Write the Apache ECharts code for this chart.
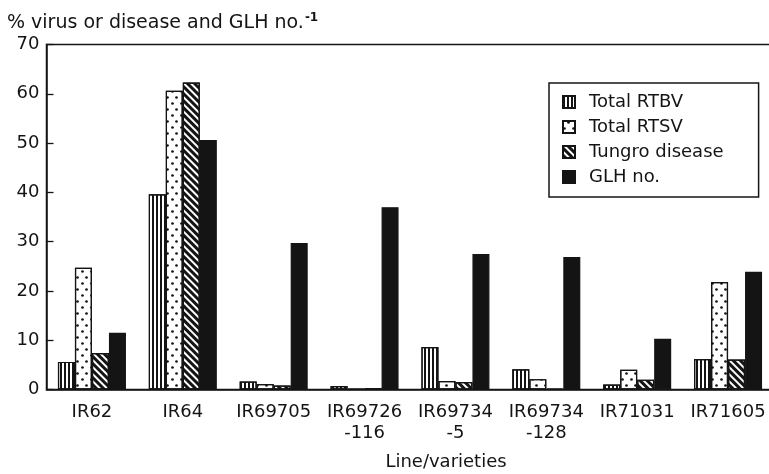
<!DOCTYPE html>
<html>
<head>
<meta charset="utf-8">
<style>
  html, body { margin: 0; padding: 0; background: #fff; }
  #chart { width: 769px; height: 474px; }
</style>
<script src="https://cdn.jsdelivr.net/npm/echarts@6/dist/echarts.min.js"></script>
</head>
<body>
<div id="chart"></div>
<script>
// Rice lines / varieties and measured percentages
const categories = ['IR62', 'IR64', 'IR69705', 'IR69726\n-116', 'IR69734\n-5', 'IR69734\n-128', 'IR71031', 'IR71605'];
const totalRTBV = [5.6, 39.6, 1.6, 0.7, 8.6, 4.1, 1.0, 6.2];
const totalRTSV = [24.7, 60.6, 1.1, 0.2, 1.7, 2.1, 4.0, 21.8];
const tungroDisease = [7.4, 62.3, 0.8, 0.3, 1.5, 0.2, 2.0, 6.1];
const glhNo = [11.5, 50.6, 29.7, 37.0, 27.5, 26.9, 10.3, 23.9];
const yTicks = [0, 10, 20, 30, 40, 50, 60, 70];

const FONT = 'DejaVu Sans';
const INK = '#141414';

// Hatch fills for the black-and-white bars
const patterns = {
  stripes: { symbol: 'rect', symbolSize: 1, color: INK, dashArrayX: [2, 2], dashArrayY: [1, 0] },
  dots: { symbol: 'circle', symbolSize: 0.9, color: INK, dashArrayX: [[2.5, 5.5], [0, 4, 2.5, 1.5]], dashArrayY: [2.5, 2.5] },
  diagonal: { symbol: 'rect', symbolSize: 1, color: INK, dashArrayX: [1, 0], dashArrayY: [3, 2], rotation: Math.PI / 4 }
};

function barSeries(name, data, fill, decal) {
  const itemStyle = { color: fill, borderColor: INK, borderWidth: 1.2 };
  if (decal) itemStyle.decal = decal;
  return {
    name: name,
    type: 'bar',
    data: data,
    barWidth: 17,
    barGap: '0%',
    itemStyle: itemStyle,
    emphasis: { disabled: true }
  };
}

const chart = echarts.init(document.getElementById('chart'), null, { renderer: 'canvas' });

chart.setOption({
  animation: false,
  backgroundColor: '#fff',
  textStyle: { fontFamily: FONT, color: INK },
  title: {
    left: 2,
    top: 7,
    text: '{main|% virus or disease and GLH no.}{sup|-1}',
    textStyle: {
      rich: {
        main: { fontFamily: FONT, fontSize: 19, color: INK, fontWeight: 'normal' },
        sup: { fontFamily: FONT, fontSize: 12, color: INK, padding: [0, 0, 10, 1] }
      }
    }
  },
  legend: {
    orient: 'vertical',
    left: 549,
    top: 83,
    padding: [9, 35, 10, 13],
    itemWidth: 12,
    itemHeight: 12,
    itemGap: 5,
    icon: 'rect',
    borderColor: INK,
    borderWidth: 1.5,
    backgroundColor: '#fff',
    textStyle: { fontFamily: FONT, fontSize: 18, color: INK, lineHeight: 20, padding: [0, 0, 0, 9] },
    selectedMode: false,
    data: ['Total RTBV', 'Total RTSV', 'Tungro disease', 'GLH no.']
  },
  grid: {
    show: true,
    left: 46.5,
    top: 44.5,
    width: 727,
    bottom: 84.5,
    borderColor: INK,
    borderWidth: 1.5,
    containLabel: false,
    outerBoundsMode: 'none'
  },
  xAxis: {
    type: 'category',
    data: categories,
    name: 'Line/varieties',
    nameLocation: 'middle',
    nameGap: 64,
    nameTextStyle: { fontFamily: FONT, fontSize: 18, color: INK, padding: [0, 0, 0, 72] },
    axisLine: { lineStyle: { color: INK, width: 1.5 } },
    axisTick: { inside: true, length: 9, lineStyle: { color: INK, width: 1.3 } },
    axisLabel: { fontFamily: FONT, fontSize: 18, color: INK, margin: 12, lineHeight: 21, interval: 0 },
    splitLine: { show: false }
  },
  yAxis: {
    type: 'value',
    min: yTicks[0],
    max: yTicks[yTicks.length - 1],
    interval: 10,
    axisLine: { show: true, lineStyle: { color: INK, width: 1.5 } },
    axisTick: { show: true, inside: true, length: 7, lineStyle: { color: INK, width: 1.3 } },
    axisLabel: { fontFamily: FONT, fontSize: 18, color: INK, margin: 7 },
    splitLine: { show: false }
  },
  series: [
    barSeries('Total RTBV', totalRTBV, '#fff', patterns.stripes),
    barSeries('Total RTSV', totalRTSV, '#fff', patterns.dots),
    barSeries('Tungro disease', tungroDisease, '#fff', patterns.diagonal),
    barSeries('GLH no.', glhNo, INK, null)
  ]
});
</script>
</body>
</html>
